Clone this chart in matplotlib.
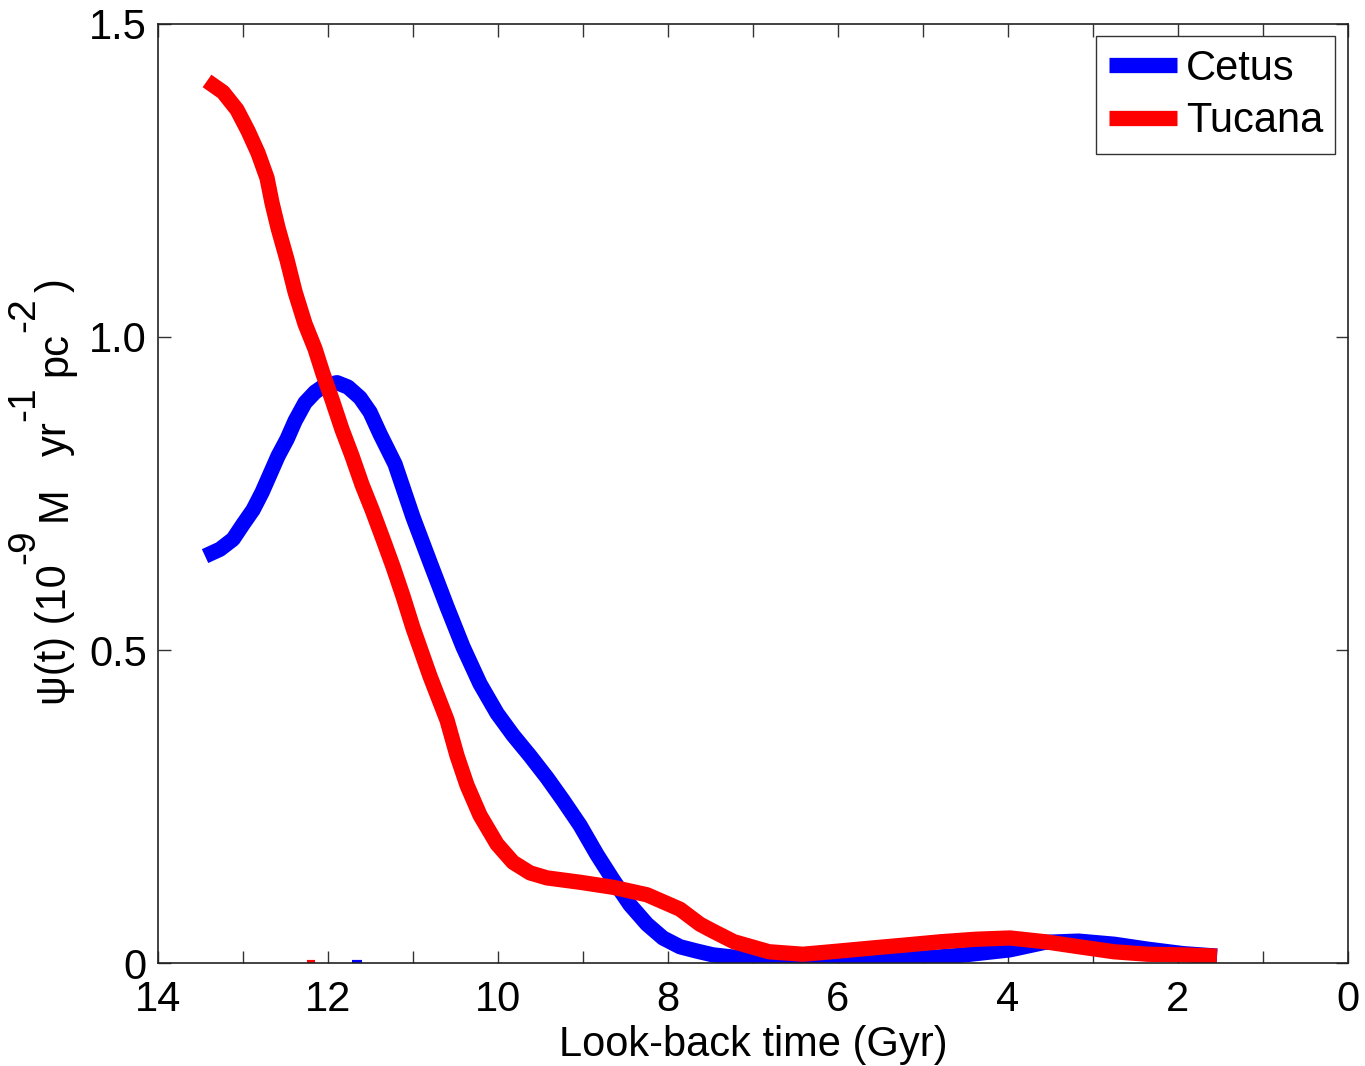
import numpy as np
import matplotlib
matplotlib.use('Agg')
import matplotlib.pyplot as plt
from matplotlib.ticker import FixedLocator

plt.rcParams['font.family'] = ['Liberation Sans', 'DejaVu Sans']

# Cetus star formation history (look-back time in Gyr, psi)
cetus_t = [13.447, 13.271, 13.118, 13.0, 12.882, 12.776, 12.682, 12.588, 12.482, 12.388,
           12.271, 12.153, 12.035, 11.894, 11.765, 11.624, 11.506, 11.388, 11.212, 11.0,
           10.8, 10.6, 10.412, 10.212, 10.012, 9.824, 9.624, 9.424, 9.235, 9.035,
           8.835, 8.647, 8.447, 8.247, 8.059, 7.859, 7.659, 7.471, 7.271, 6.8,
           6.0, 5.19, 4.58, 3.98, 3.57, 3.17, 2.75, 2.35, 1.94, 1.54]
cetus_psi = [0.650, 0.661, 0.677, 0.701, 0.724, 0.752, 0.781, 0.810, 0.837, 0.866,
             0.895, 0.912, 0.923, 0.927, 0.920, 0.903, 0.880, 0.845, 0.797, 0.712,
             0.640, 0.569, 0.505, 0.446, 0.399, 0.364, 0.331, 0.296, 0.260, 0.220,
             0.173, 0.133, 0.093, 0.062, 0.040, 0.026, 0.019, 0.013, 0.010, 0.004,
             0.003, 0.006, 0.012, 0.021, 0.033, 0.035, 0.030, 0.022, 0.015, 0.011]

# Tucana star formation history
tucana_t = [13.424, 13.235, 13.071, 12.941, 12.824, 12.718, 12.659, 12.588, 12.482, 12.388,
            12.271, 12.153, 12.059, 11.953, 11.835, 11.718, 11.600, 11.482, 11.353, 11.235,
            11.118, 11.0, 10.8, 10.6, 10.482, 10.365, 10.212, 10.012, 9.824, 9.624,
            9.424, 9.035, 8.647, 8.247, 7.859, 7.624, 7.471, 7.224, 6.812, 6.412,
            6.0, 5.6, 5.188, 4.788, 4.376, 3.976, 3.565, 3.165, 2.753, 2.353,
            1.941, 1.541]
tucana_psi = [1.409, 1.391, 1.363, 1.329, 1.294, 1.254, 1.214, 1.174, 1.123, 1.072,
              1.021, 0.981, 0.941, 0.900, 0.852, 0.810, 0.764, 0.724, 0.677, 0.633,
              0.586, 0.535, 0.458, 0.388, 0.331, 0.284, 0.236, 0.190, 0.161, 0.144,
              0.136, 0.129, 0.121, 0.109, 0.086, 0.062, 0.051, 0.034, 0.018, 0.014,
              0.019, 0.024, 0.029, 0.034, 0.038, 0.040, 0.034, 0.026, 0.018, 0.014,
              0.013, 0.011]

xlabels = ['14', '12', '10', '8', '6', '4', '2', '0']
ylabels = ['0', '0.5', '1.0', '1.5']

fig = plt.figure(figsize=(13.65, 10.66), dpi=100)
ax = fig.add_axes([0.1158, 0.0966, 0.8717, 0.8809])

ax.plot(cetus_t, cetus_psi, color='#0000ff', lw=11, solid_capstyle='butt',
        solid_joinstyle='round', label='Cetus')
ax.plot(tucana_t, tucana_psi, color='#ff0000', lw=11, solid_capstyle='butt',
        solid_joinstyle='round', label='Tucana')

# small stray marks sitting on the x axis
ax.plot([12.25, 12.15], [0.002, 0.002], color='#ff0000', lw=3, solid_capstyle='butt')
ax.plot([11.72, 11.6], [0.002, 0.002], color='#0000ff', lw=3, solid_capstyle='butt')

ax.set_xlim(14, 0)
ax.set_ylim(0, 1.5)
ax.set_xticks([14, 12, 10, 8, 6, 4, 2, 0])
ax.set_xticklabels(xlabels)
ax.xaxis.set_minor_locator(FixedLocator([13, 11, 9, 7, 5, 3, 1]))
ax.set_yticks([0, 0.5, 1.0, 1.5])
ax.set_yticklabels(ylabels)

ax.tick_params(which='both', direction='in', top=True, right=True,
               length=9, width=1, color='#333333', labelsize=30)
ax.tick_params(axis='x', pad=12)
ax.tick_params(axis='y', pad=8)
for s in ax.spines.values():
    s.set_linewidth(1.2)
    s.set_color('#222222')

ax.set_xlabel('Look-back time (Gyr)', fontsize=30, labelpad=4)

# y label built from pieces so the exponents sit high and large, MATLAB style
def chain(prev, txt, size, dx, gap):
    return ax.annotate(txt, xy=(0.5, 1), xycoords=prev, xytext=(dx, gap),
                       textcoords='offset pixels', rotation=90, ha='center',
                       va='bottom', fontsize=size, annotation_clip=False)

t = fig.text(55 / 1365, (1066 - 705) / 1066, 'ψ(t) (10', rotation=90,
             ha='center', va='bottom', fontsize=30)
t = chain(t, '-9', 28, -31, 0)
t = chain(t, 'M', 30, 31, 9)
t = chain(t, 'yr', 30, 0, 30)
t = chain(t, '-1', 28, -31, 0)
t = chain(t, 'pc', 30, 31, 10)
t = chain(t, '-2', 28, -31, 0)
t = chain(t, ')', 30, 31, 6)

leg = ax.legend(loc='upper right', fontsize=30, handlelength=1.65, handletextpad=0.2,
                borderpad=0.3, labelspacing=0.3, fancybox=False, framealpha=1,
                borderaxespad=0.3)
leg.get_frame().set_edgecolor('#333333')
leg.get_frame().set_linewidth(1.0)

fig.savefig('out.png', dpi=100)
